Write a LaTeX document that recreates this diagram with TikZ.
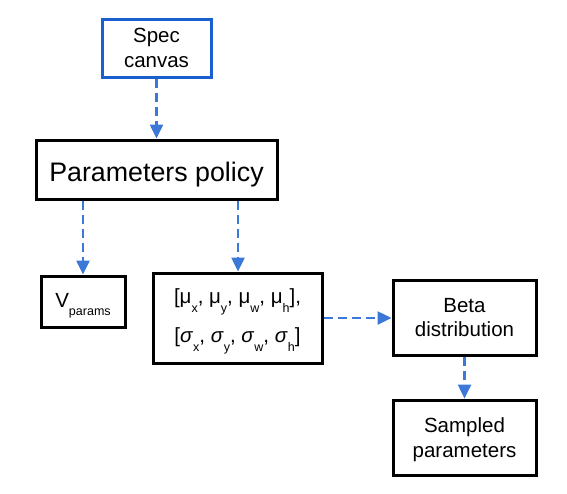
\documentclass[tikz,border=0pt]{standalone}
\usepackage{fontspec}
\setmainfont{Liberation Sans}
\usetikzlibrary{arrows.meta}
\definecolor{boxblue}{HTML}{1A5FD0}
\definecolor{arrblue}{HTML}{3C78D8}
\newcommand{\sbx}[1]{\raisebox{-0.4em}{\fontsize{12.5}{12.5}\selectfont #1}}
\begin{document}
\begin{tikzpicture}[x=1pt,y=-1pt,
  box/.style={draw=black,line width=3pt,fill=white,inner sep=0pt,align=center,font=\fontsize{20.5}{24.5}\selectfont},
  darr/.style={draw=arrblue,line width=2.5pt,dash pattern=on 9pt off 5pt,-{Triangle[length=14pt,width=13pt]},shorten >=0pt}]
\useasboundingbox (0,0) rectangle (567,493);
\node[box,draw=boxblue,minimum width=109pt,minimum height=58pt] (spec) at (156.5,48) {Spec\\canvas};
\node[box,minimum width=241pt,minimum height=59pt,text height=23pt,text depth=0pt,font=\fontsize{26.8}{30}\selectfont] (policy) at (156.5,169.5) {Parameters policy};
\node[box,minimum width=84pt,minimum height=51pt,text height=11.6pt,text depth=0pt] (vp) at (83,301.5) {V\sbx{params}};
\node[box,minimum width=169pt,minimum height=90pt] (mu) at (237.5,318) {\rule{0pt}{21.6pt}[μ\sbx{x}, μ\sbx{y}, μ\sbx{w}, μ\sbx{h}],\\[12.5pt]\relax[\textit{σ}\sbx{x}, \textit{σ}\sbx{y}, \textit{σ}\sbx{w}, \textit{σ}\sbx{h}]};
\node[box,minimum width=143pt,minimum height=75pt] (beta) at (464.5,317.5) {Beta\\distribution};
\node[box,minimum width=143pt,minimum height=75pt] (samp) at (464.5,437.5) {\rule{0pt}{19pt}Sampled\\parameters};
\coordinate (c1) at (238,0);
\draw[darr] (policy.south -| vp.north) -- (vp.north);
\draw[darr] (spec.south) -- (policy.north);
\draw[darr] (policy.south -| c1) -- (c1 |- mu.north);
\draw[darr] (mu.east) -- (mu.east -| beta.west);
\draw[darr] (beta.south) -- (samp.north);
\end{tikzpicture}
\end{document}
